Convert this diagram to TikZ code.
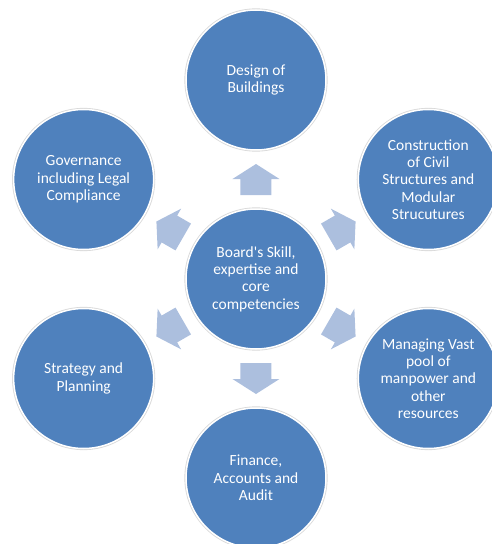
\documentclass[tikz,border=0pt]{standalone}
\usepackage{fontspec}
\setmainfont{Carlito}
\definecolor{circblue}{RGB}{79,129,189}
\definecolor{arrblue}{RGB}{172,191,222}
\begin{document}
\begin{tikzpicture}[line join=round,declare function={R=199;},
	disc/.style={circle,minimum size=140pt,inner sep=0pt,fill=circblue,draw=white,line width=1.5pt,
		preaction={draw=black!15,line width=3.2pt},text=white,align=center,
		font=\fontsize{15.5}{17.3}\selectfont},
	blockarrow/.style={fill=arrblue}]
	\useasboundingbox (-256pt,-265pt) rectangle (235pt,279pt);
	\node[disc] (core) at (0,0) {Board\textquotesingle s Skill,\\expertise and\\core\\competencies};
	\foreach \n/\a/\t in {design/90/{Design of\\Buildings},
		civil/30/{Construction\\of Civil\\Structures and\\Modular\\Strucutures},
		manpower/-30/{Managing Vast\\pool of\\manpower and\\other\\resources},
		finance/-90/{Finance,\\Accounts and\\Audit},
		strategy/210/{Strategy and\\Planning},
		governance/150/{Governance\\including Legal\\Compliance}}{
		\node[disc] (\n) at (\a:{R*1pt}) {\t};
		\path (core) -- (\n) coordinate[midway] (m\n);
		\fill[blockarrow,shift={(m\n)},rotate=\a] (-15.5pt,-15.5pt) -- (0.5pt,-15.5pt) -- (0.5pt,-23.5pt)
			-- (15.5pt,0pt) -- (0.5pt,23.5pt) -- (0.5pt,15.5pt) -- (-15.5pt,15.5pt) -- cycle;
	}
\end{tikzpicture}
\end{document}
